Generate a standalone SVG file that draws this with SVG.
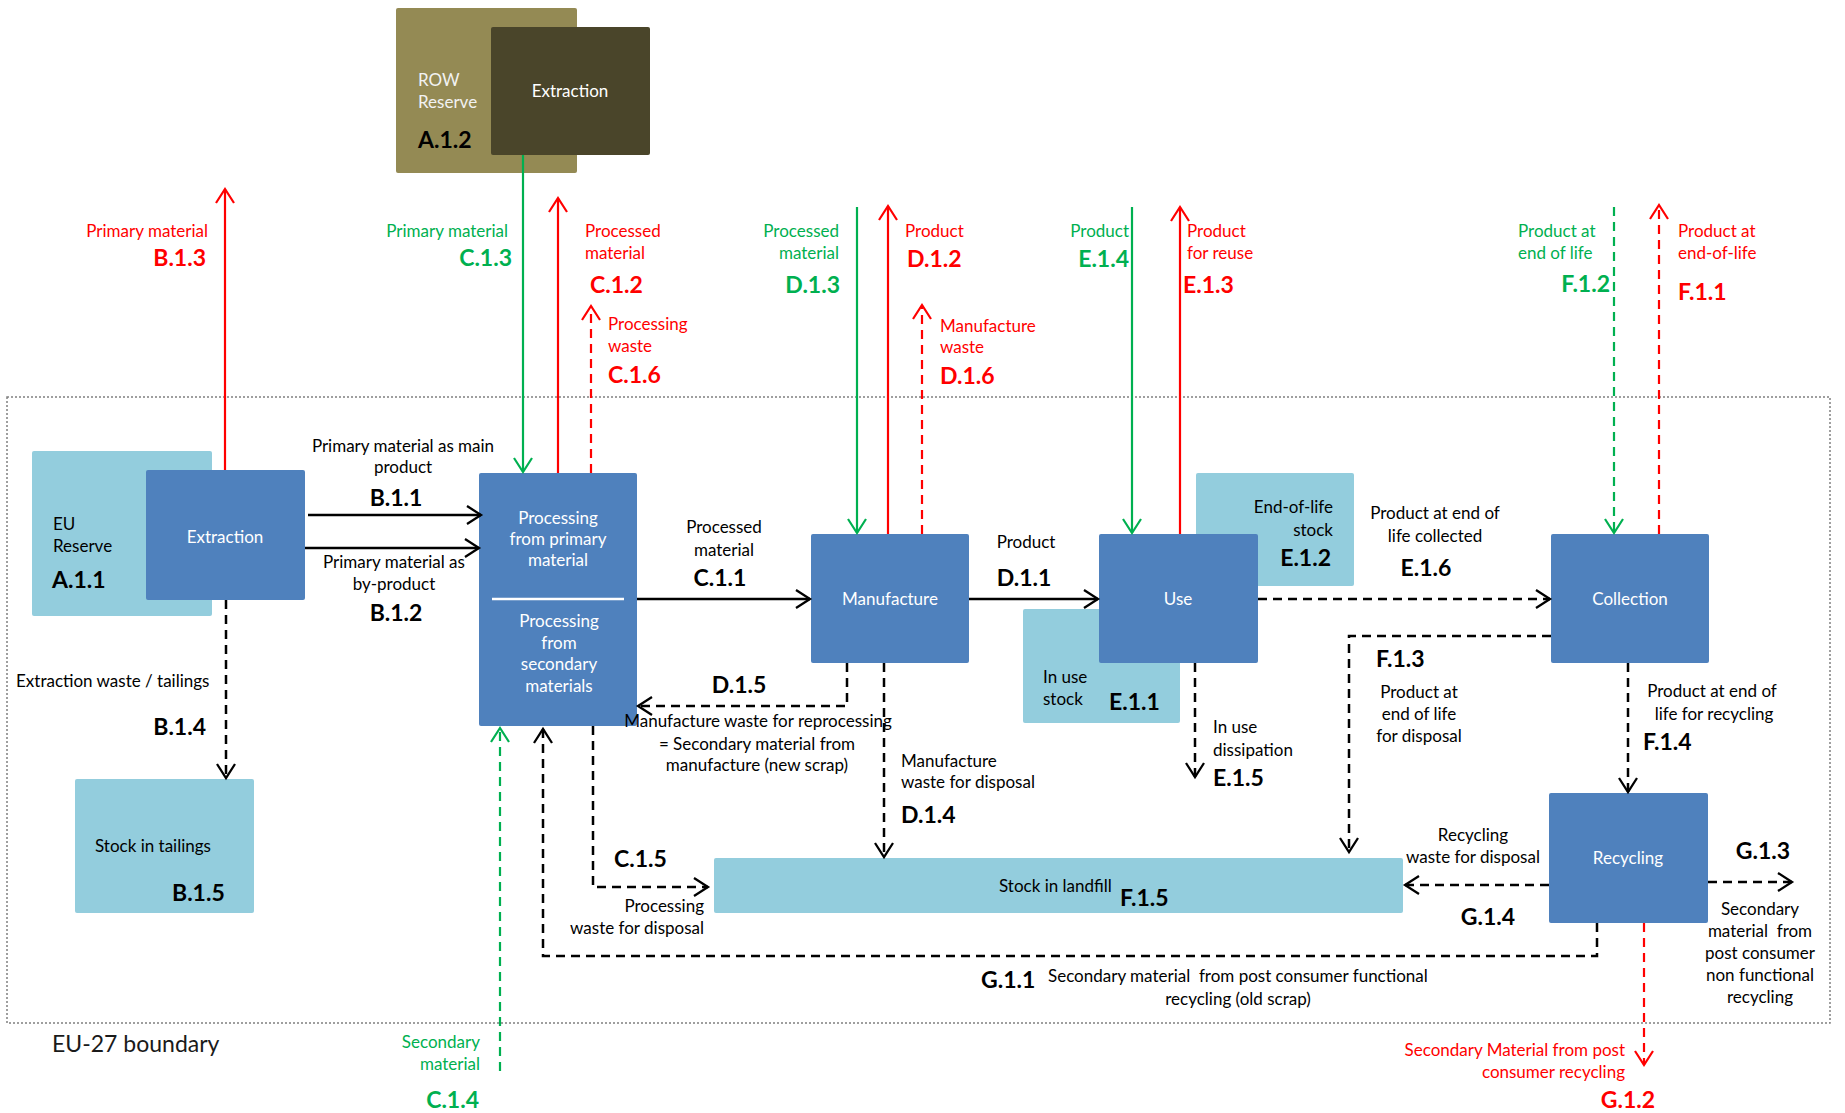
<svg xmlns="http://www.w3.org/2000/svg" width="1845" height="1113" viewBox="0 0 1845 1113">
<defs>
<style>
text{font-family:Lato,"Liberation Sans",sans-serif;font-size:17px;fill:#000}
.b{font-weight:bold;font-size:23px}
.w{fill:#fff}
.r{fill:#ff0000}
.g{fill:#00b050}
.m{text-anchor:middle}
.e{text-anchor:end}
.p{white-space:pre}
.blue{fill:#4f81bd}
.lb{fill:#93cddd}
.k{stroke:#000;stroke-width:2.5;fill:none}
.rl{stroke:#ff0000;stroke-width:2.2;fill:none}
.gl{stroke:#00b050;stroke-width:2.2;fill:none}
.d{stroke-dasharray:9 6}
</style>
<marker id="ak" viewBox="0 0 20 20" refX="16" refY="10" markerWidth="20" markerHeight="20" orient="auto" markerUnits="userSpaceOnUse"><path d="M2,1 L16,10 L2,19" fill="none" stroke="#000" stroke-width="2.3"/></marker>
<marker id="ar" viewBox="0 0 20 20" refX="16" refY="10" markerWidth="20" markerHeight="20" orient="auto" markerUnits="userSpaceOnUse"><path d="M2,1 L16,10 L2,19" fill="none" stroke="#ff0000" stroke-width="2.2"/></marker>
<marker id="ag" viewBox="0 0 20 20" refX="16" refY="10" markerWidth="20" markerHeight="20" orient="auto" markerUnits="userSpaceOnUse"><path d="M2,1 L16,10 L2,19" fill="none" stroke="#00b050" stroke-width="2.2"/></marker>
</defs>
<rect width="1845" height="1113" fill="#fff"/>

<g id="boundary">
<rect x="7" y="397" width="1823" height="626" fill="none" stroke="#808080" stroke-width="1.5" stroke-dasharray="2 2"/>
<text x="52" y="1052" style="font-size:23px;fill:#1a1a1a">EU-27 boundary</text>
</g>

<g id="row-reserve">
<rect x="396" y="8" width="181" height="165" rx="2" fill="#948a54"/>
<text x="418" y="86" style="fill:#f2f2f2">ROW</text>
<text x="418" y="108" style="fill:#f2f2f2">Reserve</text>
<text x="418" y="148" class="b">A.1.2</text>
</g>
<g id="row-extraction">
<rect x="491" y="27" width="159" height="128" rx="2" fill="#4a452a"/>
<text x="570" y="97" class="w m">Extraction</text>
</g>

<g id="eu-reserve">
<rect x="32" y="451" width="180" height="165" rx="2" class="lb"/>
<text x="53" y="530">EU</text>
<text x="53" y="552">Reserve</text>
<text x="52" y="588" class="b">A.1.1</text>
</g>
<g id="extraction">
<rect x="146" y="470" width="159" height="130" rx="2" class="blue"/>
<text x="225" y="543" class="w m">Extraction</text>
</g>

<g id="processing">
<rect x="479" y="473" width="158" height="253" rx="2" class="blue"/>
<line x1="492" y1="599" x2="624" y2="599" stroke="#fff" stroke-width="2.5"/>
<text x="558" y="524" class="w m">Processing</text>
<text x="558" y="545" class="w m">from primary</text>
<text x="558" y="566" class="w m">material</text>
<text x="559" y="627" class="w m">Processing</text>
<text x="559" y="649" class="w m">from</text>
<text x="559" y="670" class="w m">secondary</text>
<text x="559" y="692" class="w m">materials</text>
</g>

<g id="manufacture">
<rect x="811" y="534" width="158" height="129" rx="2" class="blue"/>
<text x="890" y="605" class="w m">Manufacture</text>
</g>

<g id="in-use-stock">
<rect x="1023" y="609" width="157" height="114" rx="2" class="lb"/>
<text x="1043" y="683">In use</text>
<text x="1043" y="705">stock</text>
<text x="1109" y="710" class="b">E.1.1</text>
</g>
<g id="eol-stock">
<rect x="1196" y="473" width="158" height="113" rx="2" class="lb"/>
<text x="1333" y="513" class="e">End-of-life</text>
<text x="1333" y="536" class="e">stock</text>
<text x="1331" y="566" class="b e">E.1.2</text>
</g>
<g id="use">
<rect x="1099" y="534" width="159" height="129" rx="2" class="blue"/>
<text x="1178" y="605" class="w m">Use</text>
</g>

<g id="collection">
<rect x="1551" y="534" width="158" height="129" rx="2" class="blue"/>
<text x="1630" y="605" class="w m">Collection</text>
</g>

<g id="recycling">
<rect x="1549" y="793" width="159" height="130" rx="2" class="blue"/>
<text x="1628" y="864" class="w m">Recycling</text>
</g>

<g id="landfill">
<rect x="714" y="858" width="689" height="55" rx="2" class="lb"/>
<text x="999" y="892">Stock in landfill</text>
<text x="1120" y="906" class="b">F.1.5</text>
</g>

<g id="tailings">
<rect x="75" y="779" width="179" height="134" rx="2" class="lb"/>
<text x="95" y="852">Stock in tailings</text>
<text x="172" y="901" class="b">B.1.5</text>
</g>

<g id="connectors">
<path d="M225,470 V189" class="rl" marker-end="url(#ar)"/>
<path d="M523,155 V472" class="gl" marker-end="url(#ag)"/>
<path d="M558,473 V198" class="rl" marker-end="url(#ar)"/>
<path d="M591,473 V306" class="rl d" marker-end="url(#ar)"/>
<path d="M857,207 V533" class="gl" marker-end="url(#ag)"/>
<path d="M888,534 V206" class="rl" marker-end="url(#ar)"/>
<path d="M922,534 V305" class="rl d" marker-end="url(#ar)"/>
<path d="M1132,207 V533" class="gl" marker-end="url(#ag)"/>
<path d="M1180,534 V207" class="rl" marker-end="url(#ar)"/>
<path d="M1614,207 V533" class="gl d" marker-end="url(#ag)"/>
<path d="M1659,534 V205" class="rl d" marker-end="url(#ar)"/>
<path d="M308,515 H481" class="k" marker-end="url(#ak)"/>
<path d="M305,548 H479" class="k" marker-end="url(#ak)"/>
<path d="M226,600 V778" class="k d" marker-end="url(#ak)"/>
<path d="M637,599 H810" class="k" marker-end="url(#ak)"/>
<path d="M969,599 H1098" class="k" marker-end="url(#ak)"/>
<path d="M1258,599 H1550" class="k d" marker-end="url(#ak)"/>
<path d="M847,663 V706 H638" class="k d" marker-end="url(#ak)"/>
<path d="M884,663 V857" class="k d" marker-end="url(#ak)"/>
<path d="M1195,663 V777" class="k d" marker-end="url(#ak)"/>
<path d="M1551,636 H1349 V852" class="k d" marker-end="url(#ak)"/>
<path d="M1628,663 V792" class="k d" marker-end="url(#ak)"/>
<path d="M1549,885 H1405" class="k d" marker-end="url(#ak)"/>
<path d="M1708,882 H1792" class="k d" marker-end="url(#ak)"/>
<path d="M1644,923 V1065" class="rl d" marker-end="url(#ar)"/>
<path d="M1597,923 V956 H543 V729" class="k d" marker-end="url(#ak)"/>
<path d="M593,726 V887 H708" class="k d" marker-end="url(#ak)"/>
<path d="M500,1071 V728" class="gl d" marker-end="url(#ag)"/>
</g>

<g id="labels">
<text x="208" y="237" class="r e">Primary material</text>
<text x="206" y="266" class="b r e">B.1.3</text>
<text x="508" y="237" class="g e">Primary material</text>
<text x="512" y="266" class="b g e">C.1.3</text>
<text x="585" y="237" class="r">Processed</text>
<text x="585" y="259" class="r">material</text>
<text x="590" y="293" class="b r">C.1.2</text>
<text x="608" y="330" class="r">Processing</text>
<text x="608" y="352" class="r">waste</text>
<text x="608" y="383" class="b r">C.1.6</text>
<text x="839" y="237" class="g e">Processed</text>
<text x="839" y="259" class="g e">material</text>
<text x="840" y="293" class="b g e">D.1.3</text>
<text x="905" y="237" class="r">Product</text>
<text x="907" y="267" class="b r">D.1.2</text>
<text x="940" y="332" class="r">Manufacture</text>
<text x="940" y="353" class="r">waste</text>
<text x="940" y="384" class="b r">D.1.6</text>
<text x="1129" y="237" class="g e">Product</text>
<text x="1129" y="267" class="b g e">E.1.4</text>
<text x="1187" y="237" class="r">Product</text>
<text x="1187" y="259" class="r">for reuse</text>
<text x="1183" y="293" class="b r">E.1.3</text>
<text x="1518" y="237" class="g">Product at</text>
<text x="1518" y="259" class="g">end of life</text>
<text x="1610" y="292" class="b g e">F.1.2</text>
<text x="1678" y="237" class="r">Product at</text>
<text x="1678" y="259" class="r">end-of-life</text>
<text x="1678" y="300" class="b r">F.1.1</text>

<text x="403" y="452" class="m">Primary material as main</text>
<text x="403" y="473" class="m">product</text>
<text x="396" y="506" class="b m">B.1.1</text>
<text x="394" y="568" class="m">Primary material as</text>
<text x="394" y="590" class="m">by-product</text>
<text x="396" y="621" class="b m">B.1.2</text>
<text x="16" y="687">Extraction waste / tailings</text>
<text x="206" y="735" class="b e">B.1.4</text>
<text x="724" y="533" class="m">Processed</text>
<text x="724" y="556" class="m">material</text>
<text x="720" y="586" class="b m">C.1.1</text>
<text x="1026" y="548" class="m">Product</text>
<text x="1024" y="586" class="b m">D.1.1</text>
<text x="1435" y="519" class="m">Product at end of</text>
<text x="1435" y="542" class="m">life collected</text>
<text x="1426" y="576" class="b m">E.1.6</text>
<text x="739" y="693" class="b m">D.1.5</text>
<text x="758" y="727" class="m">Manufacture waste for reprocessing</text>
<text x="757" y="750" class="m">= Secondary material from</text>
<text x="757" y="771" class="m">manufacture (new scrap)</text>
<text x="901" y="767">Manufacture</text>
<text x="901" y="788">waste for disposal</text>
<text x="901" y="823" class="b">D.1.4</text>
<text x="1213" y="733">In use</text>
<text x="1213" y="756">dissipation</text>
<text x="1213" y="786" class="b">E.1.5</text>
<text x="1376" y="667" class="b">F.1.3</text>
<text x="1419" y="698" class="m">Product at</text>
<text x="1419" y="720" class="m">end of life</text>
<text x="1419" y="742" class="m">for disposal</text>
<text x="1712" y="697" class="m">Product at end of</text>
<text x="1714" y="720" class="m">life for recycling</text>
<text x="1643" y="750" class="b">F.1.4</text>
<text x="1473" y="841" class="m">Recycling</text>
<text x="1473" y="863" class="m">waste for disposal</text>
<text x="1488" y="925" class="b m">G.1.4</text>
<text x="1763" y="859" class="b m">G.1.3</text>
<text x="1760" y="915" class="m">Secondary</text>
<text x="1760" y="937" class="m p">material  from</text>
<text x="1760" y="959" class="m">post consumer</text>
<text x="1760" y="981" class="m">non functional</text>
<text x="1760" y="1003" class="m">recycling</text>
<text x="1625" y="1056" class="r e">Secondary Material from post</text>
<text x="1625" y="1078" class="r e">consumer recycling</text>
<text x="1628" y="1108" class="b r m">G.1.2</text>
<text x="981" y="988" class="b">G.1.1</text>
<text x="1048" y="982" class="p">Secondary material  from post consumer functional</text>
<text x="1238" y="1005" class="m">recycling (old scrap)</text>
<text x="614" y="867" class="b">C.1.5</text>
<text x="704" y="912" class="e">Processing</text>
<text x="704" y="934" class="e">waste for disposal</text>
<text x="480" y="1048" class="g e">Secondary</text>
<text x="480" y="1070" class="g e">material</text>
<text x="479" y="1108" class="b g e">C.1.4</text>
</g>
</svg>
